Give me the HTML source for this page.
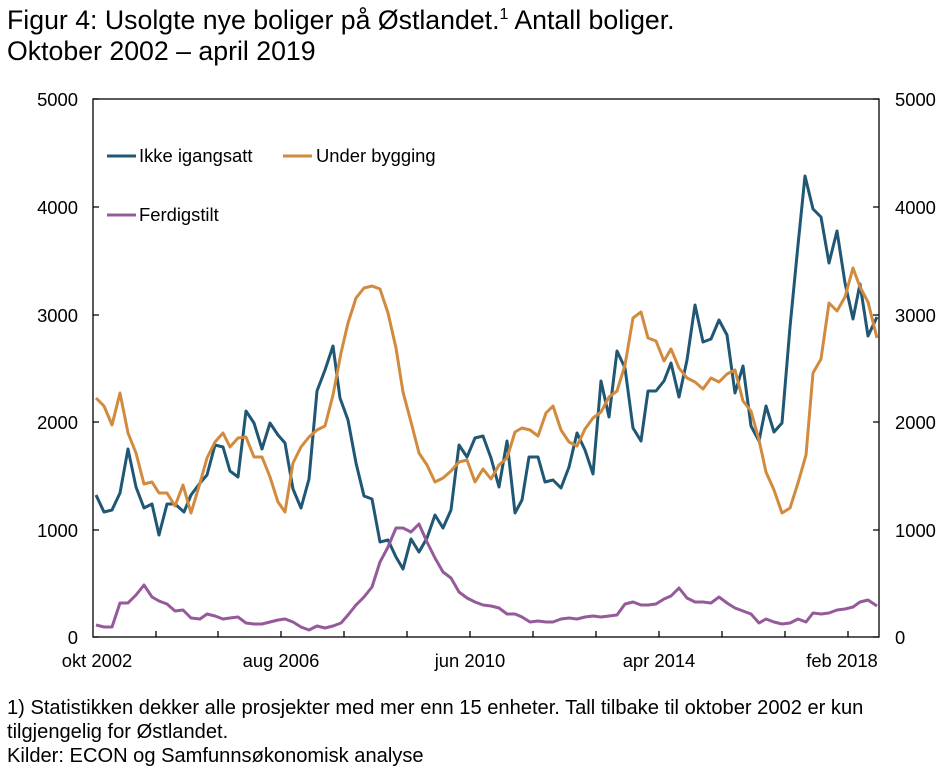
<!DOCTYPE html>
<html><head><meta charset="utf-8"><style>
body{margin:0;background:#fff;width:949px;height:771px;overflow:hidden;font-family:"Liberation Sans",sans-serif}
</style></head><body>
<svg width="949" height="771" xmlns="http://www.w3.org/2000/svg" font-family="Liberation Sans, sans-serif">
<text x="7" y="29" font-size="26.7">Figur 4: Usolgte nye boliger på Østlandet.<tspan font-size="16" dy="-10">1</tspan><tspan dy="10"> Antall boliger.</tspan></text>
<text x="7" y="60" font-size="26.7">Oktober 2002 – april 2019</text>
<g stroke="#000" stroke-width="1.3" fill="none">
<rect x="93" y="99" width="786" height="538"/>
<path d="M93 637h6M93 530h6M93 422h6M93 315h6M93 207h6M93 99h6"/>
<path d="M879 637h-6M879 530h-6M879 422h-6M879 315h-6M879 207h-6M879 99h-6"/>
<path d="M156 637v-6M218 637v-6M281 637v-6M344 637v-6M407 637v-6M470 637v-6M533 637v-6M596 637v-6M659 637v-6M722 637v-6M785 637v-6M848 637v-6"/>
</g>
<g font-size="18.4" text-anchor="end">
<text x="78" y="644">0</text><text x="78" y="537">1000</text><text x="78" y="429">2000</text><text x="78" y="322">3000</text><text x="78" y="214">4000</text><text x="78" y="106">5000</text>
</g>
<g font-size="18.4">
<text x="895" y="644">0</text><text x="895" y="537">1000</text><text x="895" y="429">2000</text><text x="895" y="322">3000</text><text x="895" y="214">4000</text><text x="895" y="106">5000</text>
</g>
<g font-size="18.4" text-anchor="middle">
<text x="97" y="667">okt 2002</text><text x="281" y="667">aug 2006</text><text x="470" y="667">jun 2010</text><text x="659" y="667">apr 2014</text><text x="842" y="667">feb 2018</text>
</g>
<g fill="none" stroke-width="3" stroke-linejoin="round">
<polyline stroke="#1f5774" points="96,495 104,512 112,510 120,493 128,449 136,487 144,508 152,504 159,535 167,504 175,504 184,512 191,495 200,483 207,475 215,445 223,447 230,471 238,477 246,411 254,423 262,449 270,423 278,435 285,443 293,489 301,508 309,479 317,391 325,370 333,346 340,398 348,420 356,463 364,496 372,499 380,542 388,540 396,557 403,569 411,539 419,552 427,538 435,515 443,528 451,510 459,445 467,457 475,438 483,436 491,458 499,487 507,441 515,513 522,500 529,457 538,457 545,482 553,480 561,488 569,467 577,433 585,450 593,474 601,381 609,417 617,351 625,368 633,428 641,441 648,391 656,391 664,381 671,363 679,397 687,360 695,305 703,342 711,339 719,320 727,335 735,393 743,366 751,426 759,441 766,406 774,432 782,423 790,327 798,245 805,176 813,209 821,217 829,263 837,231 845,283 853,319 860,284 868,336 877,317"/>
<polyline stroke="#d28b3e" points="96,398 104,406 112,425 120,393 128,433 136,453 144,484 152,482 159,493 167,493 175,506 183,485 191,513 200,483 207,458 215,442 223,433 230,447 238,438 246,437 254,457 262,457 270,477 278,502 285,512 293,463 301,447 309,437 317,430 325,426 333,395 341,353 348,323 356,298 364,288 372,286 380,289 388,313 396,348 403,392 411,422 419,453 427,465 435,482 443,478 451,471 459,462 467,460 475,482 483,469 491,479 499,465 507,458 515,432 522,428 530,430 538,436 546,413 553,406 561,430 569,442 577,446 585,429 593,418 601,412 609,397 617,391 625,365 633,318 641,312 648,338 656,341 664,361 671,349 679,368 687,378 695,382 703,389 711,378 719,382 727,374 735,370 743,401 751,411 759,440 766,472 774,490 782,513 790,508 798,483 806,455 813,373 821,359 829,303 837,311 845,297 853,268 860,287 868,302 877,338"/>
<polyline stroke="#955a9a" points="96,625 104,627 112,627 120,603 128,603 136,595 144,585 152,597 159,601 167,604 175,611 183,610 191,618 200,619 207,614 215,616 223,619 230,618 238,617 246,623 254,624 262,624 270,622 278,620 285,619 293,622 301,627 309,630 317,626 325,628 333,626 341,623 348,615 356,605 364,597 372,587 380,562 388,547 396,528 403,528 411,532 419,524 427,542 435,558 443,572 451,578 459,592 467,598 475,602 483,605 491,606 499,608 507,614 515,614 522,617 530,622 538,621 546,622 553,622 561,619 569,618 577,619 585,617 593,616 601,617 609,616 617,615 625,604 633,602 641,605 648,605 656,604 664,599 671,596 679,588 687,598 695,602 703,602 711,603 719,597 727,603 735,608 743,611 751,614 759,623 766,619 774,622 782,624 790,623 798,619 806,622 813,613 821,614 829,613 837,610 845,609 853,607 860,602 868,600 877,606"/>
<path stroke="#1f5774" d="M107 156h29"/>
<path stroke="#d28b3e" d="M283 156h29"/>
<path stroke="#955a9a" d="M107 215h29"/>
</g>
<g font-size="18.4">
<text x="139" y="162">Ikke igangsatt</text>
<text x="316" y="162">Under bygging</text>
<text x="139" y="221">Ferdigstilt</text>
</g>
<g font-size="20.1">
<text x="7" y="714">1) Statistikken dekker alle prosjekter med mer enn 15 enheter. Tall tilbake til oktober 2002 er kun</text>
<text x="7" y="738">tilgjengelig for Østlandet.</text>
<text x="7" y="762">Kilder: ECON og Samfunnsøkonomisk analyse</text>
</g>
</svg>
</body></html>
